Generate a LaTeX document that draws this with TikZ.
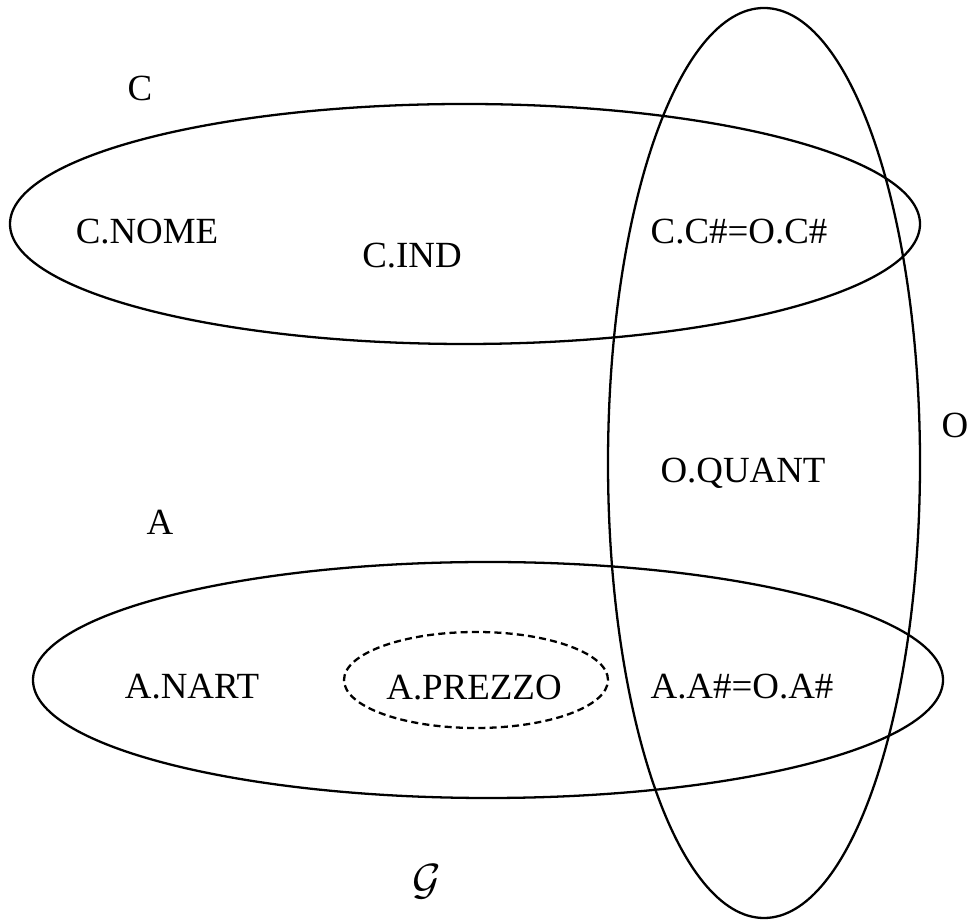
\documentclass[tikz,border=0pt]{standalone}
\usepackage{fontspec}
\setmainfont{Liberation Serif}
\usepackage{tikz}
\usetikzlibrary{positioning}

\begin{document}
\begin{tikzpicture}[
  set/.style={line width=1.3pt, draw=black},
  subset/.style={set, dash pattern=on 4pt off 2.4pt},
  lbl/.style={font=\fontsize{21}{25}\selectfont, inner sep=0pt, text depth=0pt}
]
\useasboundingbox (0,0) rectangle (19.4,18.42);

% relazioni
\draw[set] (9.30,13.94) ellipse [x radius=9.10, y radius=2.40];
\draw[set] (9.76,4.82) ellipse [x radius=9.10, y radius=2.36];
\draw[set] (15.28,9.16) ellipse [x radius=3.12, y radius=9.10];
\draw[subset] (9.52,4.82) ellipse [x radius=2.64, y radius=0.96];

% nomi
\node[lbl] (nameC) at (2.80,16.66) {C};
\node[lbl] (nameO) at (19.10,9.92) {O};
\node[lbl] (nameA) at (3.20,7.98) {A};
\node[font=\fontsize{25}{30}\selectfont, inner sep=0pt] (nameG) at (8.54,0.78) {$\mathcal{G}$};

% attributi
\node[lbl] (cnome) at (2.94,13.80) {C.NOME};
\node[lbl] (cind) at (8.24,13.32) {C.IND};
\node[lbl] (cjoin) at (14.78,13.80) {C.C\#=O.C\#};
\node[lbl] (oquant) at (14.86,9.02) {O.QUANT};
\node[lbl] (anart) at (3.84,4.70) {A.NART};
\node[lbl] (aprezzo) at (9.48,4.68) {A.PREZZO};
\node[lbl] (ajoin) at (14.84,4.70) {A.A\#=O.A\#};
\end{tikzpicture}
\end{document}
